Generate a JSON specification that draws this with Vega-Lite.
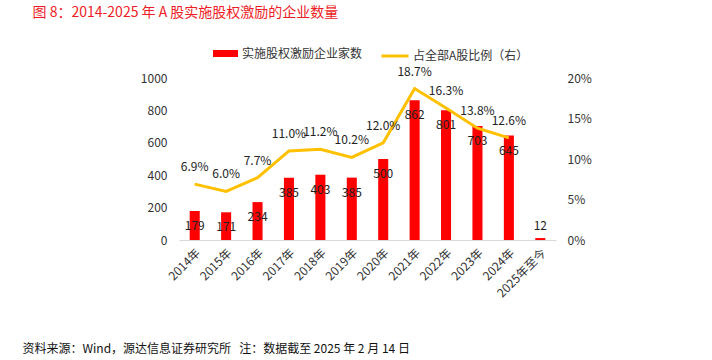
{
  "$schema": "https://vega.github.io/schema/vega-lite/v6.json",
  "autosize": "none",
  "width": 377,
  "height": 162,
  "padding": {"left": 179, "top": 78, "right": 156, "bottom": 120},
  "background": "white",
  "config": {
    "font": "Noto Sans CJK SC",
    "view": {"stroke": null},
    "axis": {"grid": false, "ticks": false, "tickSize": 0, "labelFont": "Noto Sans CJK SC", "labelFontSize": 12, "labelColor": "#333333"},
    "legend": {"labelFont": "Noto Sans CJK SC", "labelFontSize": 12, "labelColor": "#333333"}
  },
  "data": {
    "values": [
      {"year": "2014年", "count": 179, "ratio": 0.069},
      {"year": "2015年", "count": 171, "ratio": 0.060},
      {"year": "2016年", "count": 234, "ratio": 0.077},
      {"year": "2017年", "count": 385, "ratio": 0.110},
      {"year": "2018年", "count": 403, "ratio": 0.112},
      {"year": "2019年", "count": 385, "ratio": 0.102},
      {"year": "2020年", "count": 500, "ratio": 0.120},
      {"year": "2021年", "count": 862, "ratio": 0.187},
      {"year": "2022年", "count": 801, "ratio": 0.163},
      {"year": "2023年", "count": 703, "ratio": 0.138},
      {"year": "2024年", "count": 645, "ratio": 0.126},
      {"year": "2025年至今", "count": 12, "ratio": null}
    ]
  },
  "encoding": {
    "x": {
      "field": "year",
      "type": "nominal",
      "sort": null,
      "scale": {"paddingInner": 0.68, "paddingOuter": 0.34},
      "axis": {
        "labelAngle": -45,
        "labelPadding": 7,
        "domainColor": "#d9d9d9",
        "domainWidth": 1,
        "title": "资料来源：Wind，源达信息证券研究所\u00a0\u00a0\u00a0注：数据截至 2025 年 2 月 14 日",
        "titleX": -157,
        "titleY": 108,
        "titleAlign": "left",
        "titleAnchor": "start",
        "titleBaseline": "middle",
        "titleFontSize": 12,
        "titleFontWeight": "normal",
        "titleColor": "#111111",
        "titleFont": "Noto Sans CJK SC"
      }
    }
  },
  "layer": [
    {
      "encoding": {
        "y": {
          "field": "count",
          "type": "quantitative",
          "scale": {"domain": [0, 1000]},
          "axis": {
            "values": [0, 200, 400, 600, 800, 1000],
            "format": "d",
            "domain": false,
            "labelPadding": 12,
            "orient": "left",
            "title": "图 8：2014-2025 年 A 股实施股权激励的企业数量",
            "titleAngle": 0,
            "titleX": -147,
            "titleY": -66,
            "titleAlign": "left",
            "titleAnchor": "start",
            "titleBaseline": "middle",
            "titleFontSize": 14,
            "titleFontWeight": "normal",
            "titleColor": "#EE1C25",
            "titleFont": "Noto Sans CJK SC"
          }
        }
      },
      "layer": [
        {
          "mark": {"type": "bar"},
          "encoding": {
            "color": {
              "datum": "实施股权激励企业家数",
              "scale": {"range": ["#FF0000"]},
              "legend": {
                "orient": "none",
                "legendX": 34,
                "legendY": -37,
                "title": null,
                "symbolType": "M-1,-0.28H1V0.28H-1Z",
                "symbolSize": 625,
                "symbolStrokeWidth": 0,
                "labelOffset": 4
              }
            }
          }
        },
        {
          "transform": [{"filter": "datum.count >= 100"}],
          "mark": {"type": "text", "baseline": "middle", "dy": 15, "fontSize": 12, "color": "#222222"},
          "encoding": {"text": {"field": "count", "type": "quantitative"}}
        },
        {
          "transform": [{"filter": "datum.count < 100"}],
          "mark": {"type": "text", "baseline": "middle", "dy": -12, "fontSize": 12, "color": "#222222"},
          "encoding": {"text": {"field": "count", "type": "quantitative"}}
        }
      ]
    },
    {
      "transform": [{"filter": "isValid(datum.ratio)"}],
      "encoding": {
        "y": {
          "field": "ratio",
          "type": "quantitative",
          "scale": {"domain": [0, 0.2]},
          "axis": {"values": [0, 0.05, 0.1, 0.15, 0.2], "format": ".0%", "domain": false, "labelPadding": 11, "title": null, "orient": "right"}
        }
      },
      "layer": [
        {
          "mark": {"type": "line", "strokeWidth": 3},
          "encoding": {
            "stroke": {
              "datum": "占全部A股比例（右）",
              "scale": {"range": ["#FFC000"]},
              "legend": {
                "orient": "none",
                "legendX": 201,
                "legendY": -37,
                "title": null,
                "symbolType": "stroke",
                "symbolSize": 729,
                "symbolStrokeWidth": 3,
                "labelOffset": 3
              }
            }
          }
        },
        {
          "mark": {"type": "text", "baseline": "middle", "dy": -17, "fontSize": 12, "color": "#222222"},
          "encoding": {"text": {"field": "ratio", "type": "quantitative", "format": ".1%"}}
        }
      ]
    }
  ],
  "resolve": {"scale": {"y": "independent", "color": "independent", "stroke": "independent"}}
}
